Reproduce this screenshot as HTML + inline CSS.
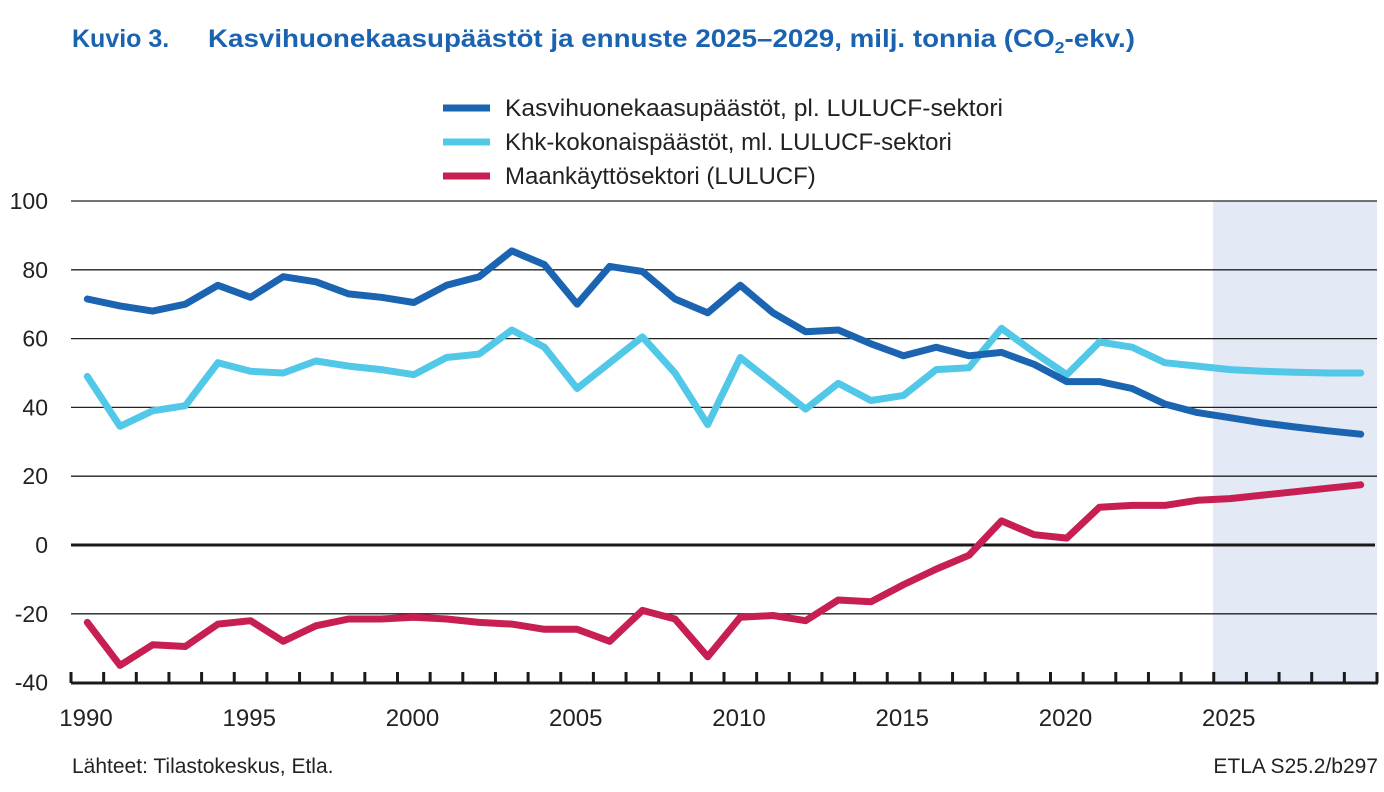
<!DOCTYPE html>
<html><head><meta charset="utf-8"><style>
body{margin:0;background:#fff;font-family:"Liberation Sans",sans-serif;}
</style></head><body>
<svg id="s" width="1384" height="787" xmlns="http://www.w3.org/2000/svg" font-family="Liberation Sans, sans-serif">
<text x="72" y="47" font-size="25" font-weight="bold" fill="#1a63b0">Kuvio 3.</text>
<text x="208" y="47" font-size="25" font-weight="bold" fill="#1a63b0" textLength="927" lengthAdjust="spacingAndGlyphs">Kasvihuonekaasupäästöt ja ennuste 2025–2029, milj. tonnia (CO<tspan font-size="16" dy="6">2</tspan><tspan dy="-6">-ekv.)</tspan></text>
<rect x="1213" y="201" width="164" height="482" fill="#e3e9f5"/>
<g id="grid" stroke="#222" stroke-width="1.3"></g>
<line x1="71" y1="545" x2="1375" y2="545" stroke="#1a1a1a" stroke-width="3"/>
<line x1="71" y1="683" x2="1378" y2="683" stroke="#1a1a1a" stroke-width="3"/>
<g id="ticks" stroke="#1a1a1a" stroke-width="3"></g>
<g id="yl" font-size="23" fill="#222" text-anchor="end"></g>
<g id="xl" font-size="24" fill="#222" text-anchor="middle"></g>
<g id="lines" fill="none" stroke-width="7" stroke-linejoin="round" stroke-linecap="round"></g>
<line x1="443" y1="108" x2="490" y2="108" stroke="#1b64b2" stroke-width="7"/>
<line x1="443" y1="142" x2="490" y2="142" stroke="#52c8e8" stroke-width="7"/>
<line x1="443" y1="176" x2="490" y2="176" stroke="#c71f52" stroke-width="7"/>
<text x="505" y="116" font-size="24" fill="#222" textLength="498" lengthAdjust="spacingAndGlyphs">Kasvihuonekaasupäästöt, pl. LULUCF-sektori</text>
<text x="505" y="150" font-size="24" fill="#222">Khk-kokonaispäästöt, ml. LULUCF-sektori</text>
<text x="505" y="184" font-size="24" fill="#222">Maankäyttösektori (LULUCF)</text>
<text x="72" y="773" font-size="21" fill="#222">Lähteet: Tilastokeskus, Etla.</text>
<text x="1378" y="773" font-size="21" fill="#222" text-anchor="end">ETLA S25.2/b297</text>
</svg>
<script>
var NS="http://www.w3.org/2000/svg";
function el(p,t,a,txt){var e=document.createElementNS(NS,t);for(var k in a)e.setAttribute(k,a[k]);if(txt)e.textContent=txt;document.getElementById(p).appendChild(e);}
function Y(v){return 545-v*3.44;}
function X(yr){return 71+(yr-1990+0.5)*32.65;}
[100,80,60,40,20,-20].forEach(function(v){el("grid","line",{x1:71,x2:1377,y1:Y(v),y2:Y(v)});});
[100,80,60,40,20,0,-20,-40].forEach(function(v){el("yl","text",{x:48,y:Y(v)+8},String(v));});
for(var k=0;k<=40;k++){var x=71+k*32.65;el("ticks","line",{x1:x,x2:x,y1:672,y2:683});}
[1990,1995,2000,2005,2010,2015,2020,2025].forEach(function(y){el("xl","text",{x:71+(y-1990)*32.65+15,y:726},String(y));});
var d={
"#1b64b2":[71.5,69.5,68,70,75.5,72,78,76.5,73,72,70.5,75.5,78,85.5,81.5,70,81,79.5,71.5,67.5,75.5,67.5,62,62.5,58.5,55,57.5,55,56,52.5,47.5,47.5,45.5,41,38.5,37,35.5,34.3,33.2,32.2],
"#52c8e8":[49,34.5,39,40.5,53,50.5,50,53.5,52,51,49.5,54.5,55.5,62.5,57.5,45.5,53,60.5,50,35,54.5,47,39.5,47,42,43.5,51,51.5,63,56,49.5,59,57.5,53,52,51,50.5,50.2,50,50],
"#c71f52":[-22.5,-35,-29,-29.5,-23,-22,-28,-23.5,-21.5,-21.5,-21,-21.5,-22.5,-23,-24.5,-24.5,-28,-19,-21.5,-32.5,-21,-20.5,-22,-16,-16.5,-11.5,-7,-3,7,3,2,11,11.5,11.5,13,13.5,14.5,15.5,16.5,17.5]};
["#52c8e8","#1b64b2","#c71f52"].forEach(function(c){var p=d[c].map(function(v,i){return X(1990+i).toFixed(1)+","+Y(v).toFixed(1);}).join(" ");el("lines","polyline",{points:p,stroke:c});});
</script>
</body></html>
